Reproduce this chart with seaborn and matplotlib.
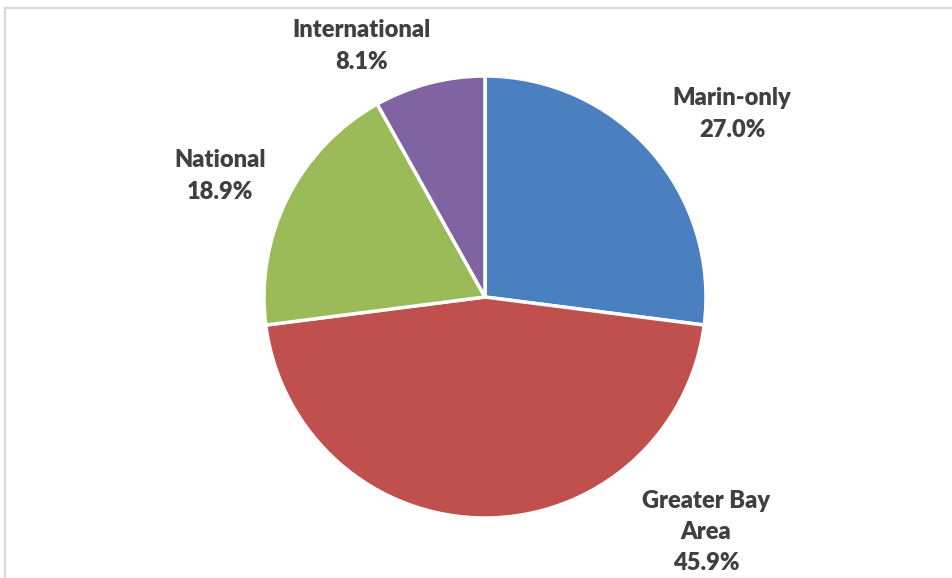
import matplotlib
matplotlib.use("Agg")
import matplotlib.pyplot as plt
import seaborn as sns
from matplotlib.patches import Rectangle

sns.set_theme(style="white")
plt.rcParams['font.family'] = ['Lato', 'DejaVu Sans']

categories = ["Marin-only", "Greater Bay Area", "National", "International"]
label_names = ["Marin-only", "Greater Bay\nArea", "National", "International"]
values = [27.0, 45.9, 18.9, 8.1]
colors = ["#4A7FC0", "#C0504D", "#9BBB59", "#8064A2"]

W, H = 952, 578
cx, cy, R = 485, 297, 221

fig = plt.figure(figsize=(W / 100, H / 100), dpi=100)
ax = fig.add_axes([0, 0, 1, 1])
wedges, _ = ax.pie(values, colors=colors, startangle=90, counterclock=False,
                   wedgeprops=dict(edgecolor="white", linewidth=2.5))
ax.set_xlim(-cx / R, (W - cx) / R)
ax.set_ylim(-(H - cy) / R, cy / R)
ax.set_aspect("equal")
ax.axis("off")

# label anchor offsets (in pie-radius units) relative to centre
label_pos = [(1.118, 0.828), (1.0, -1.063), (-1.199, 0.548), (-0.557, 1.136)]
for name, v, (lx, ly) in zip(label_names, values, label_pos):
    ax.text(lx, ly, f"{name}\n{v:.1f}%", ha="center", va="center",
            fontsize=17, fontweight="heavy", color="#404040", linespacing=1.52)

fig.patches.append(Rectangle((4.5 / W, -0.01), 1.1, (H - 8.5) / H + 0.01,
                             transform=fig.transFigure, fill=False,
                             edgecolor="#D9D9D9", linewidth=1.6))
fig.savefig("out.png", dpi=100)
